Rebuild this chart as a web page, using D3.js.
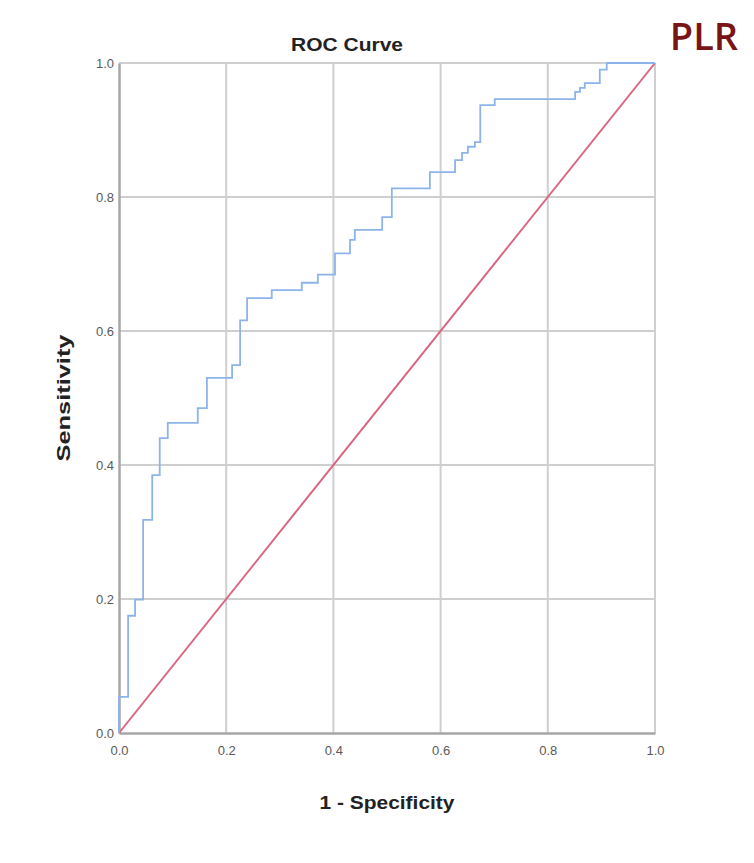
<!DOCTYPE html>
<html><head><meta charset="utf-8">
<script src="https://cdn.jsdelivr.net/npm/d3@7"></script>
<style>html,body{margin:0;padding:0;background:#fff;}</style>
</head><body>
<svg id="chart" width="754" height="863"></svg>
<script>
// ROC curve vertices (1 - specificity, sensitivity)
const fpr = [0, 0.017, 0.030, 0.045, 0.062, 0.076, 0.091, 0.147, 0.164, 0.211, 0.226, 0.239, 0.285, 0.341, 0.371, 0.403, 0.431, 0.440, 0.491, 0.509, 0.580, 0.627, 0.640, 0.651, 0.664, 0.674, 0.701, 0.851, 0.860, 0.869, 0.897, 0.910, 1];
const tpr = [0, 0.054, 0.175, 0.199, 0.318, 0.385, 0.440, 0.463, 0.485, 0.530, 0.549, 0.616, 0.649, 0.661, 0.672, 0.684, 0.716, 0.736, 0.751, 0.770, 0.813, 0.837, 0.855, 0.866, 0.875, 0.882, 0.937, 0.946, 0.957, 0.963, 0.970, 0.990, 1];
const refX = [0, 1];
const refY = [0, 1];
const ticks = [0, 0.2, 0.4, 0.6, 0.8, 1.0];
const tickLabels = ["0.0", "0.2", "0.4", "0.6", "0.8", "1.0"];
const title = "ROC Curve";
const xTitle = "1 - Specificity";
const yTitle = "Sensitivity";
const tag = "PLR";

const svg = d3.select("#chart");
const L = 119, R = 655, T = 63, B = 733;
const x = d3.scaleLinear().domain([0, 1]).range([L, R]);
const y = d3.scaleLinear().domain([0, 1]).range([B, T]);

// grid
const g = svg.append("g");
g.selectAll(".vg").data(ticks.slice(1)).enter().append("line")
  .attr("x1", d => x(d)).attr("x2", d => x(d)).attr("y1", T).attr("y2", B)
  .attr("stroke", "#cfcfcf").attr("stroke-width", 2);
g.selectAll(".hg").data(ticks.slice(1)).enter().append("line")
  .attr("y1", d => y(d)).attr("y2", d => y(d)).attr("x1", L).attr("x2", R)
  .attr("stroke", "#cfcfcf").attr("stroke-width", 2);

// axes
const xAxis = d3.axisBottom(x).tickValues(ticks).tickFormat((d, i) => tickLabels[i]).tickSize(0).tickPadding(13);
const yAxis = d3.axisLeft(y).tickValues(ticks).tickFormat((d, i) => tickLabels[i]).tickSize(0).tickPadding(5);
const gx = svg.append("g").attr("transform", `translate(0,${B})`).call(xAxis);
const gy = svg.append("g").attr("transform", `translate(${L},0)`).call(yAxis);
[gx, gy].forEach(a => {
  a.select(".domain").attr("stroke", "#a6a6a6").attr("stroke-width", 2.5);
  a.selectAll("text").attr("font-family", "Liberation Sans, Arial, sans-serif")
    .attr("font-size", 13).attr("fill", "#5a5a5a");
});

// reference diagonal
const line = d3.line().x(d => x(d[0])).y(d => y(d[1]));
svg.append("path").datum(refX.map((v, i) => [v, refY[i]]))
  .attr("d", line).attr("fill", "none").attr("stroke", "#d9667f").attr("stroke-width", 2);

// ROC curve
const stepLine = d3.line().x(d => x(d[0])).y(d => y(d[1])).curve(d3.curveStepBefore);
svg.append("path").datum(fpr.map((v, i) => [v, tpr[i]]))
  .attr("d", stepLine).attr("fill", "none").attr("stroke", "#8db4ea").attr("stroke-width", 1.8);

// texts
svg.append("text").text(title).attr("x", 347).attr("y", 51).attr("text-anchor", "middle")
  .attr("font-family", "Liberation Sans, Arial, sans-serif").attr("font-weight", "bold")
  .attr("font-size", 18).attr("fill", "#222").attr("textLength", 112).attr("lengthAdjust", "spacingAndGlyphs");
svg.append("text").text(xTitle).attr("x", 387).attr("y", 809).attr("text-anchor", "middle")
  .attr("font-family", "Liberation Sans, Arial, sans-serif").attr("font-weight", "bold")
  .attr("font-size", 19).attr("fill", "#222").attr("textLength", 135).attr("lengthAdjust", "spacingAndGlyphs");
svg.append("text").text(yTitle).attr("transform", "translate(70,398) rotate(-90)").attr("text-anchor", "middle")
  .attr("font-family", "Liberation Sans, Arial, sans-serif").attr("font-weight", "bold")
  .attr("font-size", 19).attr("fill", "#222").attr("textLength", 127).attr("lengthAdjust", "spacingAndGlyphs");
svg.append("text").text(tag).attr("x", 704).attr("y", 50).attr("text-anchor", "middle")
  .attr("font-family", "Open Sans, sans-serif").attr("font-weight", 600)
  .attr("font-size", 38).attr("fill", "#7b1416");
</script>
</body></html>
